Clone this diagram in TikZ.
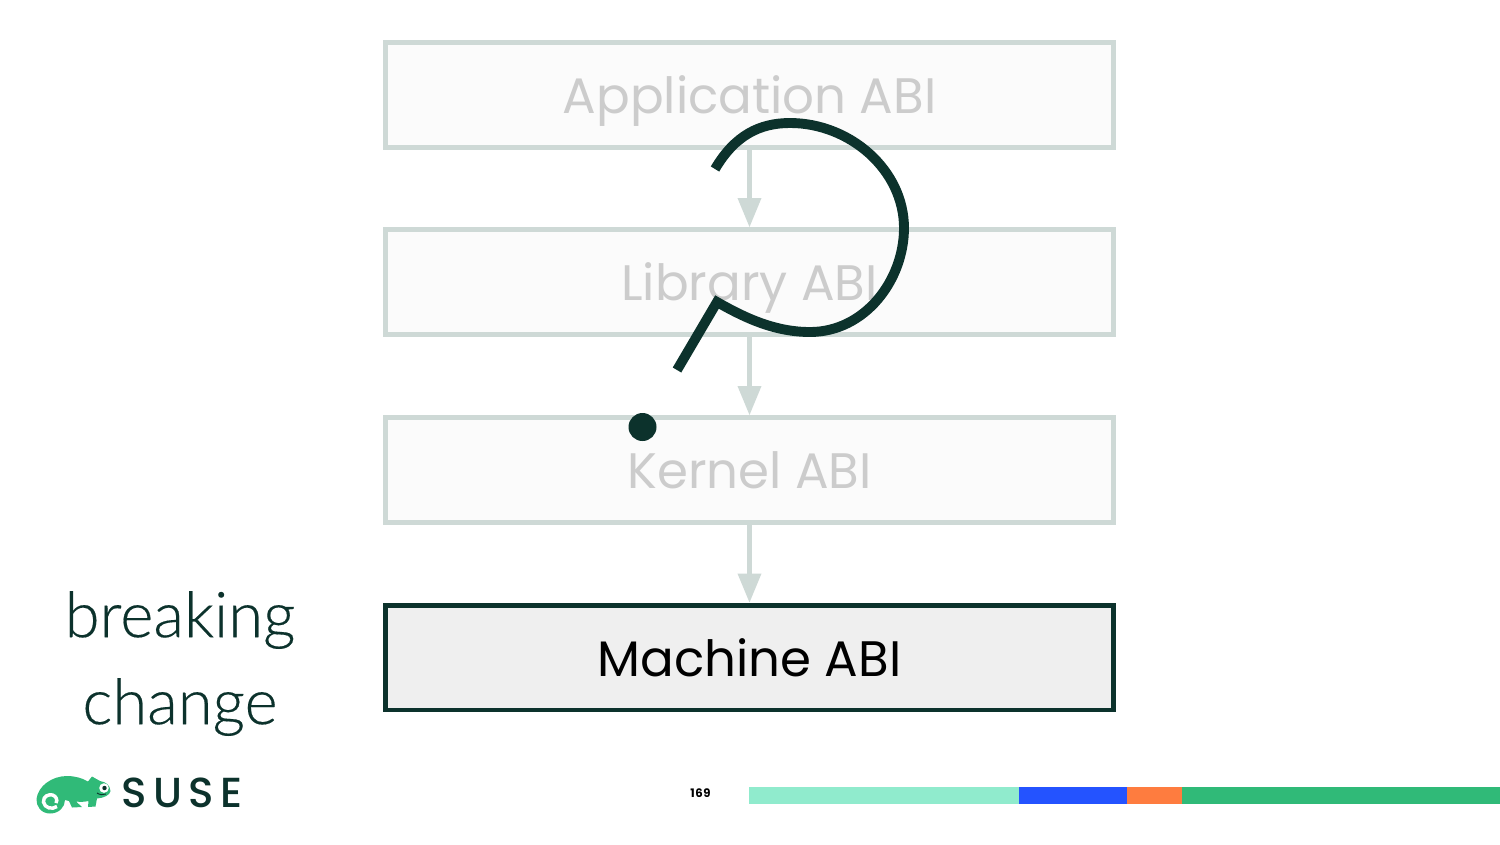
\documentclass[tikz,border=0pt]{standalone}
\usepackage{fontspec}
\usetikzlibrary{arrows.meta}
\setmainfont{Poppins}
\newfontfamily\headfont[FakeBold=0.25]{Lato Light}
\newfontfamily\logofont{Poppins Medium}
\definecolor{pine}{HTML}{0C322C}
\definecolor{palebord}{HTML}{CED9D6}
\definecolor{paletext}{HTML}{CCCCCC}
\definecolor{palefill}{HTML}{FBFBFB}
\definecolor{machfill}{HTML}{EFEFEF}
\definecolor{jungle}{HTML}{30BA78}
\definecolor{mint}{HTML}{90EBCD}
\definecolor{waterhole}{HTML}{2453FF}
\definecolor{persim}{HTML}{FE7C3F}
\tikzset{
  x=0.75pt,y=-0.75pt,
  abibox/.style={draw,line width=3.5pt,minimum width=546pt,minimum height=78.5pt,inner sep=0pt,text height=33pt,text depth=5pt,font=\fontsize{37.4}{40}\selectfont},
  fadedbox/.style={abibox,draw=palebord,fill=palefill,text=paletext},
  strongbox/.style={abibox,draw=pine,fill=machfill,text=black},
  flow/.style={draw=palebord,line width=3.5pt,-{Triangle[length=22pt,width=17pt,fill=palebord]}},
  headtext/.style={font=\headfont\fontsize{47.5}{50}\selectfont,text=pine,inner sep=0pt},
  quest/.style={draw=pine,line width=7.4pt,line join=miter}
}
\begin{document}
\begin{tikzpicture}
\useasboundingbox (0,0) rectangle (1500,844);
\fill[white] (0,0) rectangle (1500,844);
\node[fadedbox] (app) at (749.5,95) {Application ABI};
\node[fadedbox] (lib) at (749.5,282) {Library ABI};
\node[fadedbox] (ker) at (749.5,470) {Kernel ABI};
\node[strongbox] (mach) at (749.5,657.5) {Machine ABI};
\draw[flow] (app) -- (lib);
\draw[flow] (lib) -- (ker);
\draw[flow] (ker) -- (mach);
\draw[quest] (715,169) .. controls (735,135) and (760,123) .. (790,123)
  .. controls (850,123) and (904,170) .. (904,228)
  .. controls (904,280) and (865,332) .. (810,332)
  .. controls (775,332) and (745,318) .. (717,302) -- (677,370);
\fill[pine] (642.5,427) circle[radius=14];
\node[headtext] (brk) at (180,620) {breaking};
\node[headtext] (chg) at (180,707) {change};
% logo
\fill[jungle] (50,813.5) .. controls (41,813.5) and (36,806) .. (36.5,799)
  .. controls (38,786) and (52,776) .. (67,776)
  .. controls (75,776) and (82,778) .. (88,781.5)
  -- (92,776.5) -- (100,781)
  .. controls (106,782) and (110,785) .. (110.5,791)
  .. controls (110,795) and (104,798) .. (97,798.5)
  -- (95.5,806.5) -- (88,807) -- (88.5,801)
  .. controls (84,802) and (80,802) .. (76,801.5)
  -- (82,807) -- (72,807.5) -- (69,801) -- (65,800)
  .. controls (65,807) and (59,813.5) .. (50,813.5) -- cycle;
\draw[white,line width=2.6pt] (57,806.5) .. controls (52,810) and (44.5,808) .. (43.5,802)
  .. controls (43,796) and (49,794) .. (52.5,795) .. controls (56,796) and (58,800) .. (56,803);
\fill[white] (104,788) circle[radius=4.8];
\fill[pine] (104.5,788) circle[radius=2.2];
\draw[pine,line width=0.7pt] (97,793) .. controls (100,795) and (103,795) .. (106,794);
\node[inner sep=0pt,text=pine,font=\logofont\fontsize{31.5}{30}\selectfont\addfontfeatures{LetterSpace=15}] (suse) at (182,792.5) {SUSE};
\node[inner sep=0pt,text=black,font=\fontsize{8.8}{10}\selectfont\bfseries\addfontfeatures{LetterSpace=4}] (pg) at (700.5,793.5) {169};
\fill[mint] (749,787) rectangle (1019,804);
\fill[waterhole] (1019,787) rectangle (1127,804);
\fill[persim] (1127,787) rectangle (1182,804);
\fill[jungle] (1182,787) rectangle (1500,804);
\end{tikzpicture}
\end{document}
